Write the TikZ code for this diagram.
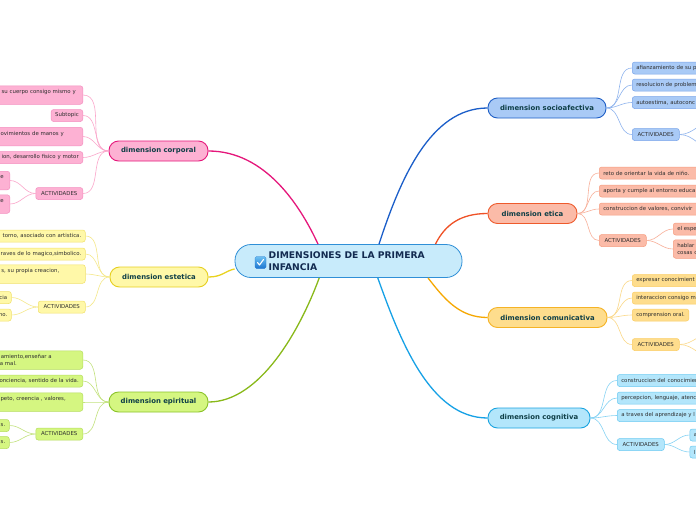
\documentclass[tikz,border=0pt]{standalone}
\usepackage{fontspec}
\setmainfont{DejaVu Sans}
\usetikzlibrary{calc}
% center
\definecolor{cfill}{HTML}{C8EBFB}\definecolor{cdraw}{HTML}{2F8FD7}\definecolor{ctxt}{HTML}{122A50}
\definecolor{mtxt}{HTML}{0F3F47}\definecolor{ltxt}{HTML}{2E2E2E}
% pink
\definecolor{pkfill}{HTML}{FDB1D3}\definecolor{pkmain}{HTML}{E5177B}\definecolor{pkleaf}{HTML}{F48FC0}\definecolor{pkline}{HTML}{FBA6CB}
% yellow
\definecolor{yefill}{HTML}{FFF8A8}\definecolor{yemain}{HTML}{E6CF20}\definecolor{yeleaf}{HTML}{F1E16A}\definecolor{yeline}{HTML}{F5E88A}\definecolor{yemline}{HTML}{E9D21E}
% green
\definecolor{grfill}{HTML}{D5F681}\definecolor{grmain}{HTML}{8BC32A}\definecolor{grleaf}{HTML}{B5DD5E}\definecolor{grline}{HTML}{C3E27E}\definecolor{grmline}{HTML}{89B91A}
% blue
\definecolor{blfill}{HTML}{A9CAF6}\definecolor{blmain}{HTML}{1F5FC6}\definecolor{blleaf}{HTML}{79A4EA}\definecolor{blline}{HTML}{8FB4EE}\definecolor{blmline}{HTML}{1B5EC9}
% salmon
\definecolor{safill}{HTML}{FBBBA8}\definecolor{samain}{HTML}{EE5A2C}\definecolor{saleaf}{HTML}{F69D80}\definecolor{saline}{HTML}{F8B09A}\definecolor{samline}{HTML}{EF5126}
% orange
\definecolor{orfill}{HTML}{FEDD8D}\definecolor{ormain}{HTML}{F5B326}\definecolor{orleaf}{HTML}{FBCD63}\definecolor{orline}{HTML}{FBD887}\definecolor{ormline}{HTML}{F6A802}
% cyan
\definecolor{cyfill}{HTML}{B3E6FB}\definecolor{cymain}{HTML}{1AA4E0}\definecolor{cyleaf}{HTML}{6CCAF2}\definecolor{cyline}{HTML}{86D3F4}\definecolor{cymline}{HTML}{16A1E6}
\definecolor{chktop}{HTML}{6CC0F2}\definecolor{chkbot}{HTML}{1C74D0}
\tikzset{
  mainbox/.style={draw, rounded corners=9.5pt, minimum height=20pt, inner sep=0pt, line width=0.9pt,
     font=\fontsize{6.9}{8}\selectfont\bfseries, text=mtxt},
  leaf/.style={draw, rounded corners=2.5pt, line width=0.5pt, font=\fontsize{5.4}{7}\selectfont,
     text=ltxt, inner xsep=4pt, inner ysep=1.5pt, minimum height=12pt},
  leafE/.style={leaf, anchor=east},
  leafW/.style={leaf, anchor=west},
  act/.style={minimum width=47pt},
  lcut/.style={leaf, anchor=east, text width=120pt, align=right},
  rcut/.style={leaf, anchor=west, text width=120pt, align=left},
  two/.style={minimum height=18.5pt},
  pk/.style={fill=pkfill, draw=pkleaf}, pkm/.style={fill=pkfill, draw=pkmain},
  ye/.style={fill=yefill, draw=yeleaf}, yem/.style={fill=yefill, draw=yemain},
  gr/.style={fill=grfill, draw=grleaf}, grm/.style={fill=grfill, draw=grmain},
  bl/.style={fill=blfill, draw=blleaf}, blm/.style={fill=blfill, draw=blmain},
  sa/.style={fill=safill, draw=saleaf}, sam/.style={fill=safill, draw=samain},
  or/.style={fill=orfill, draw=orleaf}, orm/.style={fill=orfill, draw=ormain},
  cy/.style={fill=cyfill, draw=cyleaf}, cym/.style={fill=cyfill, draw=cymain},
  mline/.style={line width=1.3pt},
  lline/.style={line width=0.6pt},
}
\begin{document}
\begin{tikzpicture}[x=1pt,y=-1pt]
\useasboundingbox (0,0) rectangle (696,520);
\clip (0,0) rectangle (696,520);
\fill[white] (0,0) rectangle (696,520);

% ---------- main branch boxes ----------
\node[mainbox, pkm, minimum width=99pt] (corp) at (158.5,151) {dimension corporal};
\node[mainbox, yem, minimum width=98pt] (est) at (159,277) {dimension estetica};
\node[mainbox, grm, minimum width=99pt] (esp) at (158.5,402) {dimension epiritual};
\node[mainbox, blm, minimum width=118pt] (soc) at (547,108) {dimension socioafectiva};
\node[mainbox, sam, minimum width=89pt] (eti) at (532.5,213.5) {dimension etica};
\node[mainbox, orm, minimum width=119pt] (com) at (547.5,317.5) {dimension comunicativa};
\node[mainbox, cym, minimum width=102pt] (cog) at (539,418) {dimension cognitiva};

% ---------- center ----------
\node[draw=cdraw, fill=cfill, line width=0.8pt, rounded corners=16pt, minimum width=227pt, minimum height=33pt] (c) at (348.5,261) {};

\draw[mline, pkmain] (c.151.6) .. controls (300,205) and (265,151) .. (corp.east);
\draw[mline, yemline] (c.184.9) .. controls (225,271) and (222,277) .. (est.east);
\draw[mline, grmline] (c.210.1) .. controls (300,330) and (260,402) .. (esp.east);
\draw[mline, blmline] (c.29.2) .. controls (400,180) and (430,108) .. (soc.west);
\draw[mline, samline] (c.11.4) .. controls (445,225) and (460,213.5) .. (eti.west);
\draw[mline, ormline] (c.348.3) .. controls (445,300) and (460,317.5) .. (com.west);
\draw[mline, cymline] (c.330.8) .. controls (400,340) and (430,418) .. (cog.west);

\node[rounded corners=1.5pt, minimum width=11pt, minimum height=12pt, inner sep=0pt, top color=chktop, bottom color=chkbot, draw=chkbot, line width=0.3pt] (chk) at (260.5,262.5) {};
\draw[white, line width=1.1pt, line cap=round, line join=round] ($(chk.center)+(-3,0)$) -- ($(chk.center)+(-1,2.5)$) -- ($(chk.center)+(3,-3)$);
\node[anchor=west, align=left, inner sep=0pt, font=\fontsize{9.2}{12}\selectfont\bfseries, text=ctxt] (ct) at (268.5,261.5) {DIMENSIONES DE LA PRIMERA\\INFANCIA};

% ---------- corporal ----------
\node[lcut, pk, two] (cl1) at (83,95) {su cuerpo consigo mismo y\rule{3pt}{0pt}\\\mbox{}};
\node[leafE, pk] (cl2) at (83,115.5) {Subtopic};
\node[lcut, pk, two] (cl3) at (83,136.5) {ovimientos de manos y\rule{15pt}{0pt}\\\mbox{}};
\node[lcut, pk] (cl4) at (83,157.5) {ion, desarrollo fisico y motor};
\node[leafE, pk, act] (cla) at (83,193.5) {ACTIVIDADES};
\node[lcut, pk, two] (cla1) at (10,180.5) {e\rule{2pt}{0pt}\\\mbox{}};
\node[lcut, pk, two] (cla2) at (10,204) {te\rule{2pt}{0pt}\\\mbox{}};
\foreach \n in {cl1,cl2,cl3,cl4,cla} \draw[lline, pkline] (corp.west) to[out=180,in=0] (\n.east);
\foreach \n in {cla1,cla2} \draw[lline, pkline] (cla.west) to[out=180,in=0] (\n.east);

% ---------- estetica ----------
\node[lcut, ye] (el1) at (85.5,236) {torno, asociado con artistica.};
\node[lcut, ye] (el2) at (85.5,254) {raves de lo magico,simbolico.};
\node[lcut, ye, two] (el3) at (85.5,274) {s, su propia creacion,\rule{22pt}{0pt}\\\mbox{}};
\node[leafE, ye, act] (ela) at (85.5,307) {ACTIVIDADES};
\node[lcut, ye] (ela1) at (11.5,297.5) {cia};
\node[lcut, ye] (ela2) at (11.5,315) {mo.};
\foreach \n in {el1,el2,el3,ela} \draw[lline, yeline] (est.west) to[out=180,in=0] (\n.east);
\foreach \n in {ela1,ela2} \draw[lline, yeline] (ela.west) to[out=180,in=0] (\n.east);

% ---------- epiritual ----------
\node[lcut, gr, two] (pl1) at (83,360) {amiento,enseñar a\rule{27pt}{0pt}\\a mal.\rule{62pt}{0pt}};
\node[lcut, gr] (pl2) at (83,381) {onciencia, sentido de la vida.};
\node[lcut, gr, two] (pl3) at (83,402) {peto, creencia , valores,\rule{13pt}{0pt}\\\mbox{}};
\node[leafE, gr, act] (pla) at (83,434) {ACTIVIDADES};
\node[lcut, gr] (pla1) at (9.5,425.5) {s.};
\node[lcut, gr] (pla2) at (9.5,442.5) {s.};
\foreach \n in {pl1,pl2,pl3,pla} \draw[lline, grline] (esp.west) to[out=180,in=0] (\n.east);
\foreach \n in {pla1,pla2} \draw[lline, grline] (pla.west) to[out=180,in=0] (\n.east);

% ---------- socioafectiva ----------
\node[rcut, bl] (sl1) at (632,68) {afianzamiento de su p};
\node[rcut, bl] (sl2) at (632,85) {resolucion de problem};
\node[rcut, bl] (sl3) at (632,102.5) {autoestima, autoconc};
\node[leafW, bl, act] (sla) at (632,134.5) {ACTIVIDADES};
\coordinate (sa1) at (714,121);
\coordinate (sa2) at (714,149);
\foreach \n in {sl1,sl2,sl3,sla} \draw[lline, blline] (soc.east) to[out=0,in=180] (\n.west);
\foreach \n in {sa1,sa2} \draw[lline, blline] (sla.east) to[out=0,in=180] (\n);

% ---------- etica ----------
\node[rcut, sa] (tl1) at (599,173) {reto de orientar la vida de niño.};
\node[rcut, sa] (tl2) at (599,191) {aporta y cumple al entorno educa};
\node[rcut, sa] (tl3) at (599,209) {construccion de valores, convivir};
\node[leafW, sa, act] (tla) at (599,240.5) {ACTIVIDADES};
\node[rcut, sa] (ta1) at (673,229) {el espe};
\node[rcut, sa, two] (ta2) at (673,249) {hablar\\cosas c};
\foreach \n in {tl1,tl2,tl3,tla} \draw[lline, saline] (eti.east) to[out=0,in=180] (\n.west);
\foreach \n in {ta1,ta2} \draw[lline, saline] (tla.east) to[out=0,in=180] (\n.west);

% ---------- comunicativa ----------
\node[rcut, or] (ul1) at (632,280.5) {expresar conocimient};
\node[rcut, or] (ul2) at (632,298) {interaccion consigo m};
\node[leafW, or] (ul3) at (632,315) {comprension oral.};
\node[leafW, or, act] (ula) at (632,344.5) {ACTIVIDADES};
\coordinate (ua1) at (714,332);
\coordinate (ua2) at (714,358);
\foreach \n in {ul1,ul2,ul3,ula} \draw[lline, orline] (com.east) to[out=0,in=180] (\n.west);
\foreach \n in {ua1,ua2} \draw[lline, orline] (ula.east) to[out=0,in=180] (\n);

% ---------- cognitiva ----------
\node[rcut, cy] (gl1) at (617,380.5) {construccion del conocimien};
\node[rcut, cy] (gl2) at (617,398) {percepcion, lenguaje, atenc};
\node[rcut, cy] (gl3) at (617,415.5) {a traves del aprendizaje y l};
\node[leafW, cy, act] (gla) at (617,444.5) {ACTIVIDADES};
\node[rcut, cy] (ga1) at (689.5,435) {a};
\node[rcut, cy] (ga2) at (689.5,452) {l};
\foreach \n in {gl1,gl2,gl3,gla} \draw[lline, cyline] (cog.east) to[out=0,in=180] (\n.west);
\foreach \n in {ga1,ga2} \draw[lline, cyline] (gla.east) to[out=0,in=180] (\n.west);
\end{tikzpicture}
\end{document}
